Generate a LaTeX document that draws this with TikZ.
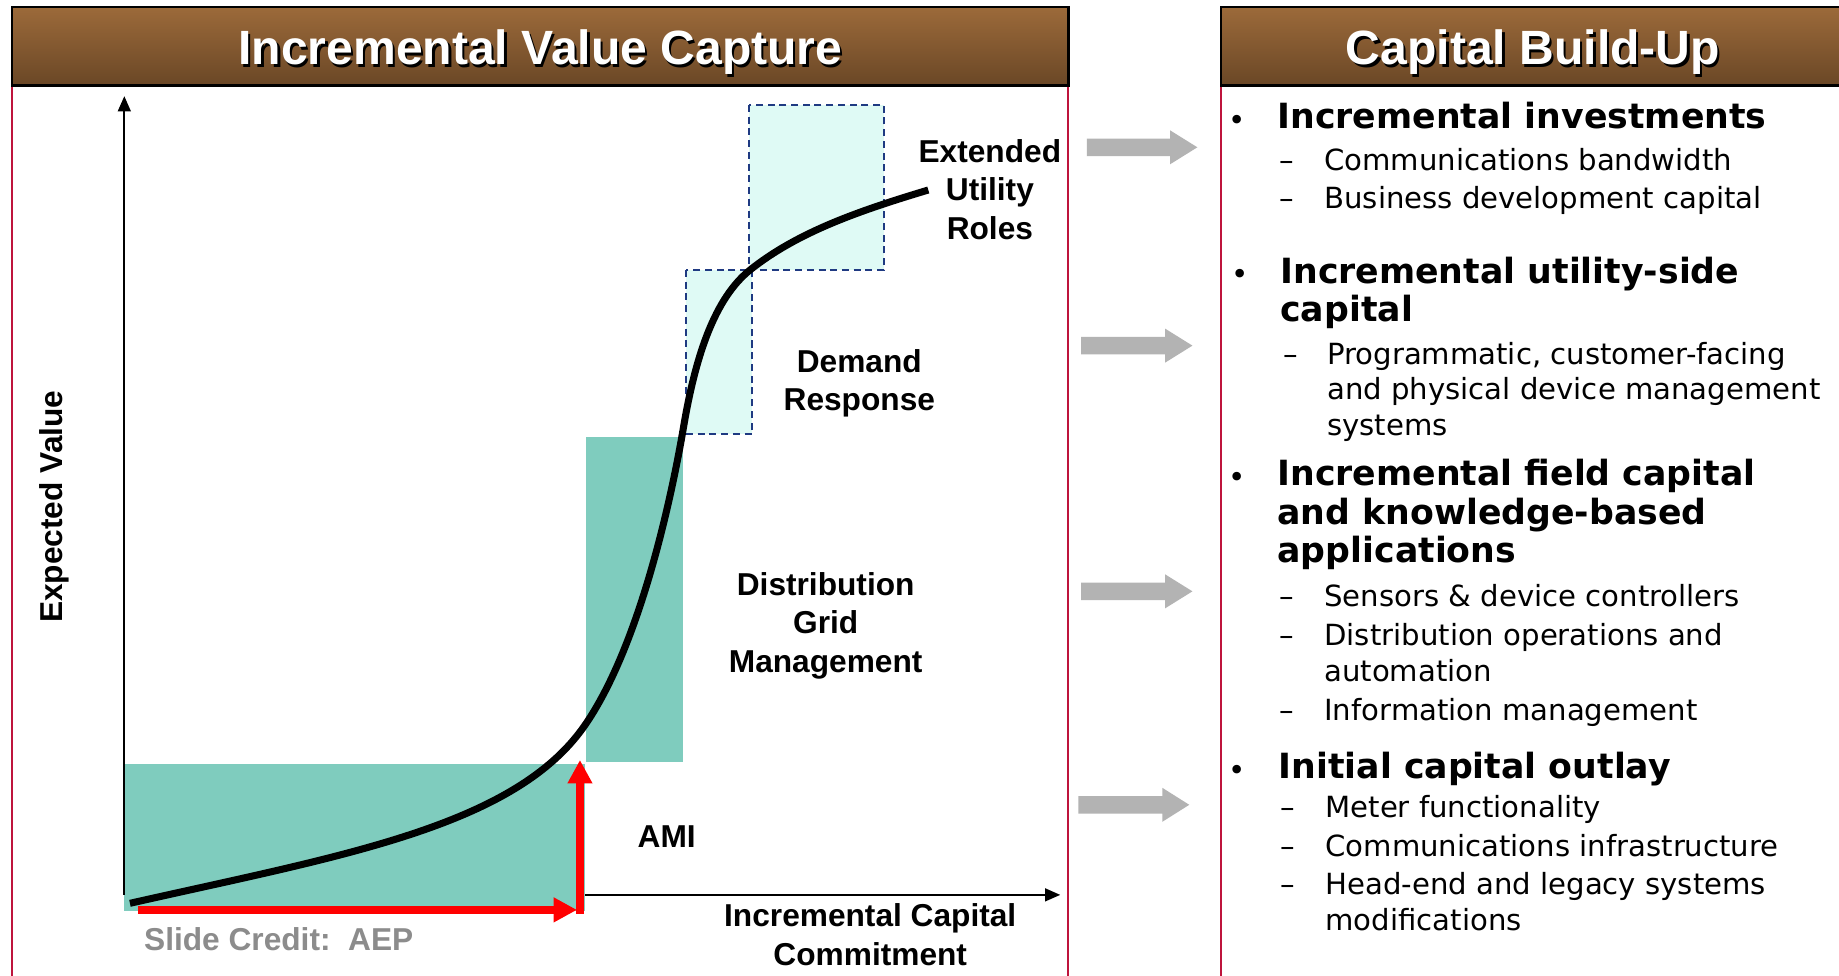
\documentclass[tikz,border=0pt]{standalone}
\usepackage{fontspec}
\setmainfont{Liberation Sans}
\newfontfamily\vfont{DejaVu Sans}
\usetikzlibrary{arrows.meta}
\definecolor{tealfill}{RGB}{127,204,190}
\definecolor{lightcyan}{RGB}{223,250,245}
\definecolor{navydash}{RGB}{31,58,130}
\definecolor{panelred}{RGB}{190,20,60}
\definecolor{hdtop}{RGB}{156,106,58}
\definecolor{hdbot}{RGB}{106,71,38}
\definecolor{arrowgray}{RGB}{179,179,179}
\definecolor{creditgray}{RGB}{140,140,140}
\begin{document}
\begin{tikzpicture}[x=1pt,y=-1pt,
  header/.style={top color=hdtop, bottom color=hdbot, draw=black, line width=2pt},
  ttl/.style={font=\bfseries\fontsize{41}{44}\selectfont, text=white, anchor=base, inner sep=0},
  ttlsh/.style={font=\bfseries\fontsize{41}{44}\selectfont, text=black, anchor=base, inner sep=0},
  lbl/.style={font=\bfseries\fontsize{27}{32.7}\selectfont, align=center, anchor=base, inner sep=0},
  hd/.style={font=\vfont\bfseries\fontsize{29.6}{33}\selectfont, anchor=base west, inner sep=0},
  it/.style={font=\vfont\fontsize{24.85}{30}\selectfont, anchor=base west, inner sep=0},
  bul/.style={font=\vfont\fontsize{25}{26}\selectfont, anchor=base west, inner sep=0},
  dsh/.style={font=\vfont\fontsize{24.85}{30}\selectfont, anchor=base west, inner sep=0},
  garrow/.style={fill=arrowgray, draw=none},
  redarrow/.style={draw=red, line width=6.3pt, -{Triangle[length=20pt,width=20pt]}},
  axis/.style={draw=black, line width=1.6pt, -{Triangle[length=13pt,width=11pt]}},
  dashbox/.style={fill=lightcyan, draw=navydash, line width=1.5pt, dash pattern=on 6pt off 4pt}
]
\useasboundingbox (0,0) rectangle (1568,832);
\fill[white] (0,0) rectangle (1568,832);

% panels
\draw[panelred, line width=1.6pt] (10,73) -- (10,840);
\draw[panelred, line width=1.6pt] (910.5,73) -- (910.5,840);
\draw[panelred, line width=1.6pt] (1041,73) -- (1041,840);
\shade[header] (10,6) rectangle (911,73);
\shade[header] (1041,6) rectangle (1580,73);
\node[ttlsh] (t1s) at (462.7,57.4) {Incremental Value Capture};
\node[ttl] (t1) at (460.7,55.4) {Incremental Value Capture};
\node[ttlsh] (t2s) at (1309,57.4) {Capital Build-Up};
\node[ttl] (t2) at (1307,55.4) {Capital Build-Up};

% chart
\coordinate (O) at (106,763);
\coordinate (Ytop) at (106,82);
\coordinate (Xend) at (904,763);
\draw[axis] (O) -- (Xend);
\fill[tealfill] (106,651) rectangle (499,776.5);
\fill[tealfill] (499.4,372.3) rectangle (582.1,649.5);
\draw[dashbox] (638.6,89.5) rectangle (753.8,230.2);
\draw[dashbox] (585,230.2) rectangle (640.9,370.3);
\draw[axis] (O) -- (Ytop);

% red arrows
\coordinate (ra0) at (118,775.8);
\coordinate (ra1) at (492,775.8);
\coordinate (rb0) at (494.5,779);
\coordinate (rb1) at (494.5,648);
\draw[redarrow] (ra0) -- (ra1);
\draw[redarrow] (rb0) -- (rb1);

% curve
\draw[line width=6pt, line cap=butt]
  (110.8,770.2) .. controls (290.8,729.5) and (438.8,705.2) .. (498.8,618.2)
  .. controls (543.8,553) and (571.1,433) .. (583,363)
  .. controls (593.2,303) and (609.5,254.2) .. (639.5,230.2)
  .. controls (679.5,198.2) and (731.5,180) .. (791.5,162);

% chart labels (base anchor = last line)
\node[lbl] (ext) at (844,204) {Extended\\Utility\\Roles};
\node[lbl] (dr) at (732.7,350) {Demand\\Response};
\node[lbl] (dgm) at (704,573) {Distribution\\Grid\\Management};
\node[lbl] (ami) at (568.5,722.5) {AMI};
\node[lbl] (icc) at (742,823) {Incremental Capital\\Commitment};
\node[font=\bfseries\fontsize{27}{32}\selectfont, text=creditgray, anchor=base west, inner sep=0] (credit) at (122.7,810.6) {Slide Credit:\ \ AEP};
\node[font=\bfseries\fontsize{27}{32}\selectfont, rotate=90, inner sep=0] (ev) at (46,432) {Expected Value};

% gray block arrows
\fill[garrow] (926.6,118.1) -- (997.6,118.1) -- (997.6,111.1) -- (1020.9,125.6) -- (997.6,140.1) -- (997.6,133.1) -- (926.6,133.1) -- cycle;
\fill[garrow] (921.7,287.2) -- (993.4,287.2) -- (993.4,280.2) -- (1016.7,294.7) -- (993.4,309.2) -- (993.4,302.2) -- (921.7,302.2) -- cycle;
\fill[garrow] (921.7,496.7) -- (993.4,496.7) -- (993.4,489.7) -- (1016.7,504.2) -- (993.4,518.7) -- (993.4,511.7) -- (921.7,511.7) -- cycle;
\fill[garrow] (919.5,678.7) -- (991,678.7) -- (991,671.7) -- (1014,686.2) -- (991,700.7) -- (991,693.7) -- (919.5,693.7) -- cycle;

% right list
\node[bul] (b1) at (1047.5,111) {•};
\node[hd] (h1) at (1089,109.5) {Incremental investments};
\node[dsh] (d11) at (1091,145) {–};
\node[it] (i11) at (1129,145) {Communications bandwidth};
\node[dsh] (d12) at (1091,178) {–};
\node[it] (i12) at (1129,178) {Business development capital};

\node[bul] (b2) at (1050,243) {•};
\node[hd] (h2a) at (1091.5,241.5) {Incremental utility-side};
\node[hd] (h2b) at (1091.5,274) {capital};
\node[dsh] (d21) at (1094,311) {–};
\node[it] (i21a) at (1131.5,311) {Programmatic, customer-facing};
\node[it] (i21b) at (1131.5,341) {and physical device management};
\node[it] (i21c) at (1131.5,371) {systems};

\node[bul] (b3) at (1047.5,415.5) {•};
\node[hd] (h3a) at (1089,414) {Incremental field capital};
\node[hd] (h3b) at (1089,447) {and knowledge-based};
\node[hd] (h3c) at (1089,480) {applications};
\node[dsh] (d31) at (1091,517) {–};
\node[it] (i31) at (1129,517) {Sensors \& device controllers};
\node[dsh] (d32) at (1091,550) {–};
\node[it] (i32a) at (1129,550) {Distribution operations and};
\node[it] (i32b) at (1129,581) {automation};
\node[dsh] (d33) at (1091,614) {–};
\node[it] (i33) at (1129,614) {Information management};

\node[bul] (b4) at (1047.5,665.5) {•};
\node[hd] (h4) at (1090,664) {Initial capital outlay};
\node[dsh] (d41) at (1092,697) {–};
\node[it] (i41) at (1130,697) {Meter functionality};
\node[dsh] (d42) at (1092,730) {–};
\node[it] (i42) at (1130,730) {Communications infrastructure};
\node[dsh] (d43) at (1092,763) {–};
\node[it] (i43a) at (1130,763) {Head-end and legacy systems};
\node[it] (i43b) at (1130,793) {modifications};
\end{tikzpicture}
\end{document}
